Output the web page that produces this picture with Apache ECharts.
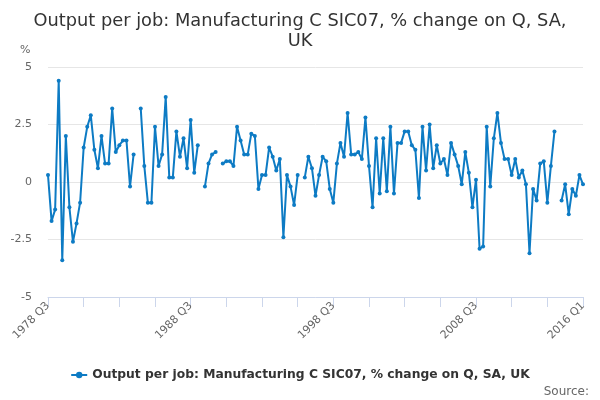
<!DOCTYPE html>
<html>
<head>
<meta charset="utf-8">
<script src="https://cdn.jsdelivr.net/npm/echarts@6/dist/echarts.min.js"></script>
<style>
html,body{margin:0;padding:0;background:#fff;}
#c{width:600px;height:400px;}
</style>
</head>
<body>
<div id="c"></div>
<script>
const quarters = [
"1978 Q3","1978 Q4",
"1979 Q1","1979 Q2","1979 Q3","1979 Q4",
"1980 Q1","1980 Q2","1980 Q3","1980 Q4",
"1981 Q1","1981 Q2","1981 Q3","1981 Q4",
"1982 Q1","1982 Q2","1982 Q3","1982 Q4",
"1983 Q1","1983 Q2","1983 Q3","1983 Q4",
"1984 Q1","1984 Q2","1984 Q3","1984 Q4",
"1985 Q1","1985 Q2","1985 Q3","1985 Q4",
"1986 Q1","1986 Q2","1986 Q3","1986 Q4",
"1987 Q1","1987 Q2","1987 Q3","1987 Q4",
"1988 Q1","1988 Q2","1988 Q3","1988 Q4",
"1989 Q1","1989 Q2","1989 Q3","1989 Q4",
"1990 Q1","1990 Q2","1990 Q3","1990 Q4",
"1991 Q1","1991 Q2","1991 Q3","1991 Q4",
"1992 Q1","1992 Q2","1992 Q3","1992 Q4",
"1993 Q1","1993 Q2","1993 Q3","1993 Q4",
"1994 Q1","1994 Q2","1994 Q3","1994 Q4",
"1995 Q1","1995 Q2","1995 Q3","1995 Q4",
"1996 Q1","1996 Q2","1996 Q3","1996 Q4",
"1997 Q1","1997 Q2","1997 Q3","1997 Q4",
"1998 Q1","1998 Q2","1998 Q3","1998 Q4",
"1999 Q1","1999 Q2","1999 Q3","1999 Q4",
"2000 Q1","2000 Q2","2000 Q3","2000 Q4",
"2001 Q1","2001 Q2","2001 Q3","2001 Q4",
"2002 Q1","2002 Q2","2002 Q3","2002 Q4",
"2003 Q1","2003 Q2","2003 Q3","2003 Q4",
"2004 Q1","2004 Q2","2004 Q3","2004 Q4",
"2005 Q1","2005 Q2","2005 Q3","2005 Q4",
"2006 Q1","2006 Q2","2006 Q3","2006 Q4",
"2007 Q1","2007 Q2","2007 Q3","2007 Q4",
"2008 Q1","2008 Q2","2008 Q3","2008 Q4",
"2009 Q1","2009 Q2","2009 Q3","2009 Q4",
"2010 Q1","2010 Q2","2010 Q3","2010 Q4",
"2011 Q1","2011 Q2","2011 Q3","2011 Q4",
"2012 Q1","2012 Q2","2012 Q3","2012 Q4",
"2013 Q1","2013 Q2","2013 Q3","2013 Q4",
"2014 Q1","2014 Q2","2014 Q3","2014 Q4",
"2015 Q1","2015 Q2","2015 Q3","2015 Q4",
"2016 Q1"
];

const outputPerJob = [
0.3,-1.7,-1.2,4.4,-3.4,2.0,-1.1,-2.6,-1.8,-0.9,
1.5,2.4,2.9,1.4,0.6,2.0,0.8,0.8,3.2,1.3,
1.6,1.8,1.8,-0.2,1.2,null,3.2,0.7,-0.9,-0.9,
2.4,0.7,1.2,3.7,0.2,0.2,2.2,1.1,1.9,0.6,
2.7,0.4,1.6,null,-0.2,0.8,1.2,1.3,null,0.8,
0.9,0.9,0.7,2.4,1.8,1.2,1.2,2.1,2.0,-0.3,
0.3,0.3,1.5,1.1,0.5,1.0,-2.4,0.3,-0.2,-1.0,
0.3,null,0.2,1.1,0.6,-0.6,0.3,1.1,0.9,-0.3,
-0.9,0.8,1.7,1.1,3.0,1.2,1.2,1.3,1.0,2.8,
0.7,-1.1,1.9,-0.5,1.9,-0.4,2.4,-0.5,1.7,1.7,
2.2,2.2,1.6,1.4,-0.7,2.4,0.5,2.5,0.6,1.6,
0.8,1.0,0.3,1.7,1.2,0.7,-0.1,1.3,0.4,-1.1,
0.1,-2.9,-2.8,2.4,-0.2,1.9,3.0,1.7,1.0,1.0,
0.3,1.0,0.2,0.5,-0.1,-3.1,-0.3,-0.8,0.8,0.9,
-0.9,0.7,2.2,null,-0.8,-0.1,-1.4,-0.3,-0.6,0.3,
-0.1
];

const yTicks = [-5, -2.5, 0, 2.5, 5];
const xLabelQuarters = ["1978 Q3","1988 Q3","1998 Q3","2008 Q3","2016 Q1"];

const seriesName = "Output per job: Manufacturing C SIC07, % change on Q, SA, UK";
const FONT = "DejaVu Sans";

const chart = echarts.init(document.getElementById('c'), null, {renderer:'canvas'});
chart.setOption({
  animation: false,
  backgroundColor: '#ffffff',
  textStyle: {fontFamily: FONT},
  title: {
    text: "Output per job: Manufacturing C SIC07, % change on Q, SA,\nUK",
    left: 'center',
    top: 6,
    textStyle: {fontFamily: FONT, fontSize: 17.8, fontWeight: 'normal', color: '#333333', lineHeight: 20}
  },
  graphic: [
    {type:'text', left: 20, top: 45, style:{text:'%', font:'11px "DejaVu Sans"', fill:'#666666'}},
    {type:'text', right: 11, top: 386, style:{text:'Source:', font:'12px "DejaVu Sans"', fill:'#666666'}}
  ],
  legend: {
    bottom: 14,
    left: 'center',
    itemWidth: 16,
    itemHeight: 8,
    itemGap: 10,
    textStyle: {fontFamily: FONT, fontSize: 12.3, fontWeight: 'bold', color: '#333333'},
    data: [seriesName]
  },
  grid: {left: 48, right: 17, top: 67, bottom: 103, containLabel: false},
  xAxis: {
    type: 'category',
    data: quarters,
    boundaryGap: false,
    axisLine: {show: true, onZero: false, lineStyle: {color: '#ccd6eb', width: 1}},
    axisTick: {show: true, interval: 9, length: 10, lineStyle: {color: '#ccd6eb'}},
    axisLabel: {
      interval: function(idx, val){ return xLabelQuarters.indexOf(val) >= 0; },
      rotate: 45,
      color: '#666666',
      fontSize: 11,
      fontFamily: FONT,
      margin: 7
    },
    splitLine: {show: false}
  },
  yAxis: {
    type: 'value',
    min: yTicks[0],
    max: yTicks[yTicks.length-1],
    interval: 2.5,
    axisLine: {show: false},
    axisTick: {show: false},
    axisLabel: {color: '#666666', fontSize: 11, fontFamily: FONT, margin: 16},
    splitLine: {lineStyle: {color: '#e6e6e6', width: 1}}
  },
  series: [{
    name: seriesName,
    type: 'line',
    data: outputPerJob,
    connectNulls: false,
    symbol: 'circle',
    symbolSize: 4,
    showSymbol: true,
    showAllSymbol: true,
    lineStyle: {color: '#0d7bc4', width: 2},
    itemStyle: {color: '#0d7bc4'}
  }]
});
</script>
</body>
</html>
